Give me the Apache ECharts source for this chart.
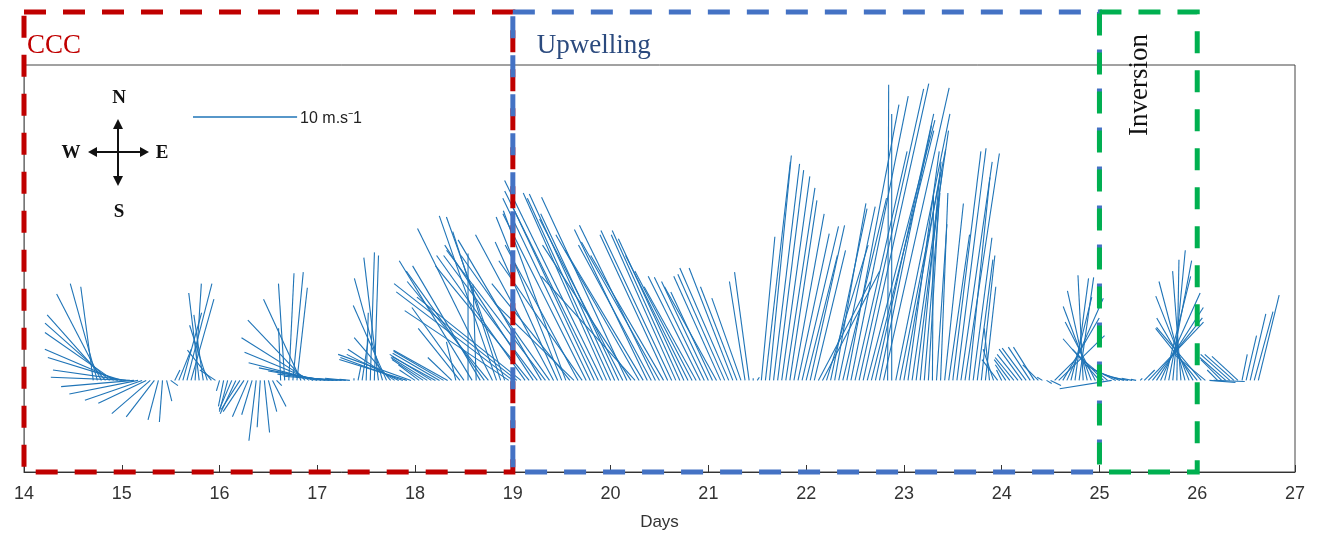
<!DOCTYPE html>
<html>
<head>
<meta charset="utf-8">
<script src="https://cdn.jsdelivr.net/npm/echarts/dist/echarts.min.js"></script>
<style>
html, body { margin: 0; padding: 0; background: #fff; }
#chart { width: 1319px; height: 538px; }
</style>
</head>
<body>
<div id="chart"></div>
<script>
// hourly wind components (m/s), one array of 24 values per day, u = east, v = north
var days = [14, 15, 16, 17, 18, 19, 20, 21, 22, 23, 24, 25, 26];

var u14 = [0,0,0,0,0,0,0,0,0,0,0,0,0,0,0,0,0,-1.2,-2.6,-4.3,-5.6,-6.2,-6.6,-7.0];
var v14 = [0,0,0,0,0,0,0,0,0,0,0,0,0,0,0,0,0,9.0,9.3,8.3,6.3,5.5,4.6,3.0];
var u15 = [-7.1,-7.0,-7.6,-7.0,-6.6,-5.5,-4.6,-3.7,-2.7,-1.0,-0.3,0.5,0.7,0.5,1.2,1.8,2.4,2.2,0.6,-1.0,-0.9,-1.7,-2.3,-1.5];
var v15 = [2.2,1.0,0.3,-0.6,-1.3,-1.9,-2.2,-3.2,-3.5,-3.8,-4.0,-2.0,-0.5,1.0,3.0,6.5,9.3,7.8,9.3,8.4,6.3,5.3,2.9,1.0];
var u16 = [-0.3,-0.5,-0.8,-1.2,-1.5,-1.8,-2.0,-1.5,-1.0,-0.7,-0.3,0.5,0.8,1.3,0.5,-0.2,-0.6,0.5,1.0,1.0,-3.6,-5.5,-6.5,-6.6];
var v16 = [-1.0,-2.5,-3.0,-2.8,-3.2,-2.8,-3.0,-3.5,-3.3,-5.8,-4.5,-5.0,-3.0,-2.5,-0.5,5.0,9.3,10.3,10.4,8.9,7.8,5.8,4.1,2.7];
var u17 = [-6.6,-6.0,-5.5,-5.0,-4.8,-4.0,-3.0,-2.0,-1.0,0,0.3,0.6,0.2,0.4,0.4,-1.4,-2.7,-3.2,-3.5,-4.5,-5.0,-6.0,-6.5,-7.0];
var v17 = [1.7,1.2,0.9,0.6,0.4,0.3,0.2,0.2,0.1,0.2,1.5,4.0,6.5,12.3,12.0,11.8,9.8,7.2,4.1,3.0,2.5,2.2,2.0,2.5];
var u18 = [-1.5,-2.0,-3.0,-3.5,-4.0,-4.2,-4.5,-4.8,-5.2,-2.3,-0.9,-4.0,-5.0,0.0,-7.0,-0.3,-6.5,-7.5,-7.8,-7.2,-5.5,-4.6,-5.6,-10.0];
var v18 = [1.0,1.5,2.0,2.2,2.5,2.3,2.6,2.8,2.9,2.2,3.7,5.0,7.0,12.2,11.5,9.2,11.0,10.5,9.5,14.6,15.8,14.3,15.7,6.7];
var u19 = [-11.2,-11.8,-10.0,-8.5,-9.0,-8.5,-9.0,-8.0,-9.5,-8.5,-7.5,-6.0,-6.3,-6.0,-7.5,-7.6,-7.0,-8.0,-8.0,-8.4,-8.0,-9.0,-9.4,-8.0];
var v19 = [8.5,9.3,8.0,12.0,11.0,13.0,12.0,13.5,12.5,12.0,14.0,13.3,15.7,16.3,9.3,7.4,13.0,11.5,16.0,17.5,17.0,18.2,19.2,18.0];
var u20 = [-8.0,-8.2,-7.5,-8.0,-8.2,-8.5,-9.0,-8.0,-7.5,-7.0,-7.0,-7.3,-7.5,-7.0,-6.5,-6.8,-6.2,-6.5,-6.3,-6.0,-5.5,-5.0,-5.0,-4.8];
var v20 = [17.5,17.9,16.0,15.5,17.6,13.0,10.0,14.0,12.5,14.5,13.0,14.9,13.3,12.0,14.0,14.4,14.0,14.4,13.6,12.0,10.5,9.0,10.0,9.9];
var u21 = [-4.5,-4.0,-5.0,-4.5,-4.5,-4.7,-4.2,-3.5,-2.8,-1.5,-1.4,0,0.2,1.3,2.4,2.1,2.5,2.5,2.7,2.8,2.6,2.9,3.0,3.5];
var v21 = [9.5,8.5,9.0,10.0,10.2,10.8,10.8,9.0,7.9,9.5,10.4,0.2,0.3,13.8,21.0,21.6,20.8,20.2,19.6,18.5,17.3,16.0,14.1,14.8];
var u22 = [3.0,3.3,3.0,5.0,5.5,4.0,3.5,3.0,3.5,4.2,5.0,5.5,5.0,6.2,6.3,6.5,6.0,5.6,5.0,6.3,0.1,0.0,5.2,4.4];
var v22 = [12.0,14.9,12.5,9.5,10.5,13.0,16.5,17.0,16.7,17.5,26.5,27.3,22.0,28.0,28.5,25.0,24.0,25.6,24.5,28.1,28.4,25.6,25.6,22.2];
var u23 = [3.5,3.0,3.5,2.5,2.0,1.5,1.0,0.1,1.0,0.7,1.8,2.0,2.7,2.8,3.0,3.3,2.0,1.8,1.5,1.3,1.0,-0.5,-1.0,-1.5];
var v23 = [20.0,22.0,24.0,20.0,21.0,18.0,17.0,18.0,15.0,18.0,17.0,14.0,22.0,22.3,21.0,21.8,19.5,13.7,11.6,12.0,9.0,5.0,3.0,2.0];
var u24 = [-0.5,-1.0,-1.5,-1.8,-2.0,-2.2,-2.3,-2.1,-2.0,-1.5,-0.5,0.5,1.0,2.0,4.4,3.5,3.5,2.0,1.3,1.4,-0.5,-1.9,-2.7,-2.9];
var v24 = [1.0,1.5,2.0,2.2,2.5,3.0,3.1,3.2,3.2,1.5,0.3,-0.3,-0.5,2.0,4.3,6.0,7.9,8.0,9.8,9.9,10.1,8.6,7.1,5.6];
var u25 = [-3.5,-3.0,-3.0,-5.0,-3.0,-2.5,-2.0,-1.5,-1.0,-0.5,0.2,1.0,5.3,4.8,4.5,3.8,2.5,2.2,1.2,0.2,-0.8,-2.5,-3.2,-3.5];
var v25 = [4.0,3.0,2.5,-0.8,1.5,1.0,0.6,0.3,0.2,0.1,0.2,1.0,5.6,6.0,7.0,8.4,10.0,11.5,12.5,11.6,10.5,9.5,8.1,6.0];
var u26 = [-4.0,-4.3,-3.0,2.5,3.0,-1.0,-2.0,-2.5,-2.8,-2.8,-2.5,0.5,1.0,1.5,1.8,2.0];
var v26 = [5.0,5.1,2.5,-0.2,-0.1,1.0,2.0,2.2,2.5,2.5,2.3,2.5,4.3,6.4,6.6,8.2];

var uByDay = [u14, u15, u16, u17, u18, u19, u20, u21, u22, u23, u24, u25, u26];
var vByDay = [v14, v15, v16, v17, v18, v19, v20, v21, v22, v23, v24, v25, v26];

var xTicks = [14, 15, 16, 17, 18, 19, 20, 21, 22, 23, 24, 25, 26, 27];
var yMin = -8.8, yMax = 30.3;
var periods = [
    { name: 'CCC', from: 14, to: 19, color: '#C00000' },
    { name: 'Upwelling', from: 19, to: 25, color: '#4472C4' },
    { name: 'Inversion', from: 25, to: 26, color: '#00B050' }
];

var sticks = [];
for (var d = 0; d < days.length; d++) {
    for (var h = 0; h < uByDay[d].length; h++) {
        if (uByDay[d][h] === 0 && vByDay[d][h] === 0) continue;
        sticks.push([days[d] + h / 24, uByDay[d][h], vByDay[d][h]]);
    }
}

var chart = echarts.init(document.getElementById('chart'));

chart.setOption({
    animation: false,
    grid: { left: 24, right: 24, top: 65, bottom: 66, show: true, borderColor: '#444', borderWidth: 1 },
    xAxis: {
        type: 'value',
        min: xTicks[0],
        max: xTicks[xTicks.length - 1],
        interval: 1,
        name: 'Days',
        nameLocation: 'middle',
        nameGap: 42,
        nameTextStyle: { fontSize: 17, color: '#333', fontFamily: 'Liberation Sans' },
        axisLine: { onZero: false, lineStyle: { color: '#333', width: 1 } },
        axisTick: { inside: true, length: 7, lineStyle: { color: '#333' } },
        axisLabel: { fontSize: 18, color: '#333', margin: 13, fontFamily: 'Liberation Sans' },
        splitLine: { show: false }
    },
    yAxis: {
        type: 'value',
        min: yMin,
        max: yMax,
        axisLine: { show: true, onZero: false, lineStyle: { color: '#777' } },
        axisTick: { show: false },
        axisLabel: { show: false },
        splitLine: { show: false }
    },
    series: [{
        type: 'custom',
        data: sticks,
        encode: { x: 0, y: 2 },
        renderItem: function (params, api) {
            var p0 = api.coord([api.value(0), 0]);
            var s = api.size([0, 1])[1];
            return {
                type: 'line',
                shape: {
                    x1: p0[0], y1: p0[1],
                    x2: p0[0] + api.value(1) * s,
                    y2: p0[1] - api.value(2) * s
                },
                style: { stroke: '#1f74b7', lineWidth: 1.1 }
            };
        }
    }]
});

// annotations placed from the axis scale
var px = function (x, y) { return chart.convertToPixel({ gridIndex: 0 }, [x, y]); };
var boxTop = 12;
var boxBottom = px(14, yMin)[1];
var base = px(14, 0)[1];
var tenMs = base - px(14, 10)[1];

var graphics = [];
periods.forEach(function (p) {
    var x0 = px(p.from, 0)[0], x1 = px(p.to, 0)[0];
    graphics.push({
        type: 'rect', z: 100,
        shape: { x: x0, y: boxTop, width: x1 - x0, height: boxBottom - boxTop },
        style: { fill: 'none', stroke: p.color, lineWidth: 5, lineDash: [22, 17] }
    });
});

graphics.push(
    { type: 'text', z: 101, style: { text: 'CCC', x: 27, y: 46, fill: '#C00000', font: '27px "Liberation Serif"', textVerticalAlign: 'middle' } },
    { type: 'text', z: 101, style: { text: 'Upwelling', x: px(19, 0)[0] + 24, y: 46, fill: '#2B4A7E', font: '27px "Liberation Serif"', textVerticalAlign: 'middle' } },
    { type: 'text', z: 101, x: (px(25, 0)[0] + px(26, 0)[0]) / 2 - 8, y: 85, rotation: Math.PI / 2,
      style: { text: 'Inversion', x: 0, y: 0, fill: '#111', font: '27px "Liberation Serif"', textAlign: 'center', textVerticalAlign: 'middle' } },
    // compass
    { type: 'line', z: 101, shape: { x1: 94, y1: 152, x2: 142, y2: 152 }, style: { stroke: '#111', lineWidth: 2 } },
    { type: 'line', z: 101, shape: { x1: 118, y1: 126, x2: 118, y2: 180 }, style: { stroke: '#111', lineWidth: 2 } },
    { type: 'polygon', z: 101, shape: { points: [[88, 152], [97, 147], [97, 157]] }, style: { fill: '#111' } },
    { type: 'polygon', z: 101, shape: { points: [[149, 152], [140, 147], [140, 157]] }, style: { fill: '#111' } },
    { type: 'polygon', z: 101, shape: { points: [[118, 119], [113, 129], [123, 129]] }, style: { fill: '#111' } },
    { type: 'polygon', z: 101, shape: { points: [[118, 186], [113, 176], [123, 176]] }, style: { fill: '#111' } },
    { type: 'text', z: 101, style: { text: 'N', x: 119, y: 98, fill: '#111', font: 'bold 19px "Liberation Serif"', textAlign: 'center', textVerticalAlign: 'middle' } },
    { type: 'text', z: 101, style: { text: 'S', x: 119, y: 212, fill: '#111', font: 'bold 19px "Liberation Serif"', textAlign: 'center', textVerticalAlign: 'middle' } },
    { type: 'text', z: 101, style: { text: 'W', x: 71, y: 153, fill: '#111', font: 'bold 19px "Liberation Serif"', textAlign: 'center', textVerticalAlign: 'middle' } },
    { type: 'text', z: 101, style: { text: 'E', x: 162, y: 153, fill: '#111', font: 'bold 19px "Liberation Serif"', textAlign: 'center', textVerticalAlign: 'middle' } },
    // scale stick
    { type: 'line', z: 101, shape: { x1: 193, y1: 117, x2: 193 + tenMs, y2: 117 }, style: { stroke: '#1f74b7', lineWidth: 1.5 } },
    { type: 'text', z: 101, style: { text: '10 m.s\u207B1', x: 196 + tenMs, y: 119, fill: '#222', font: '16px "Liberation Sans"', textVerticalAlign: 'middle' } }
);

chart.setOption({ graphic: graphics });
</script>
</body>
</html>
